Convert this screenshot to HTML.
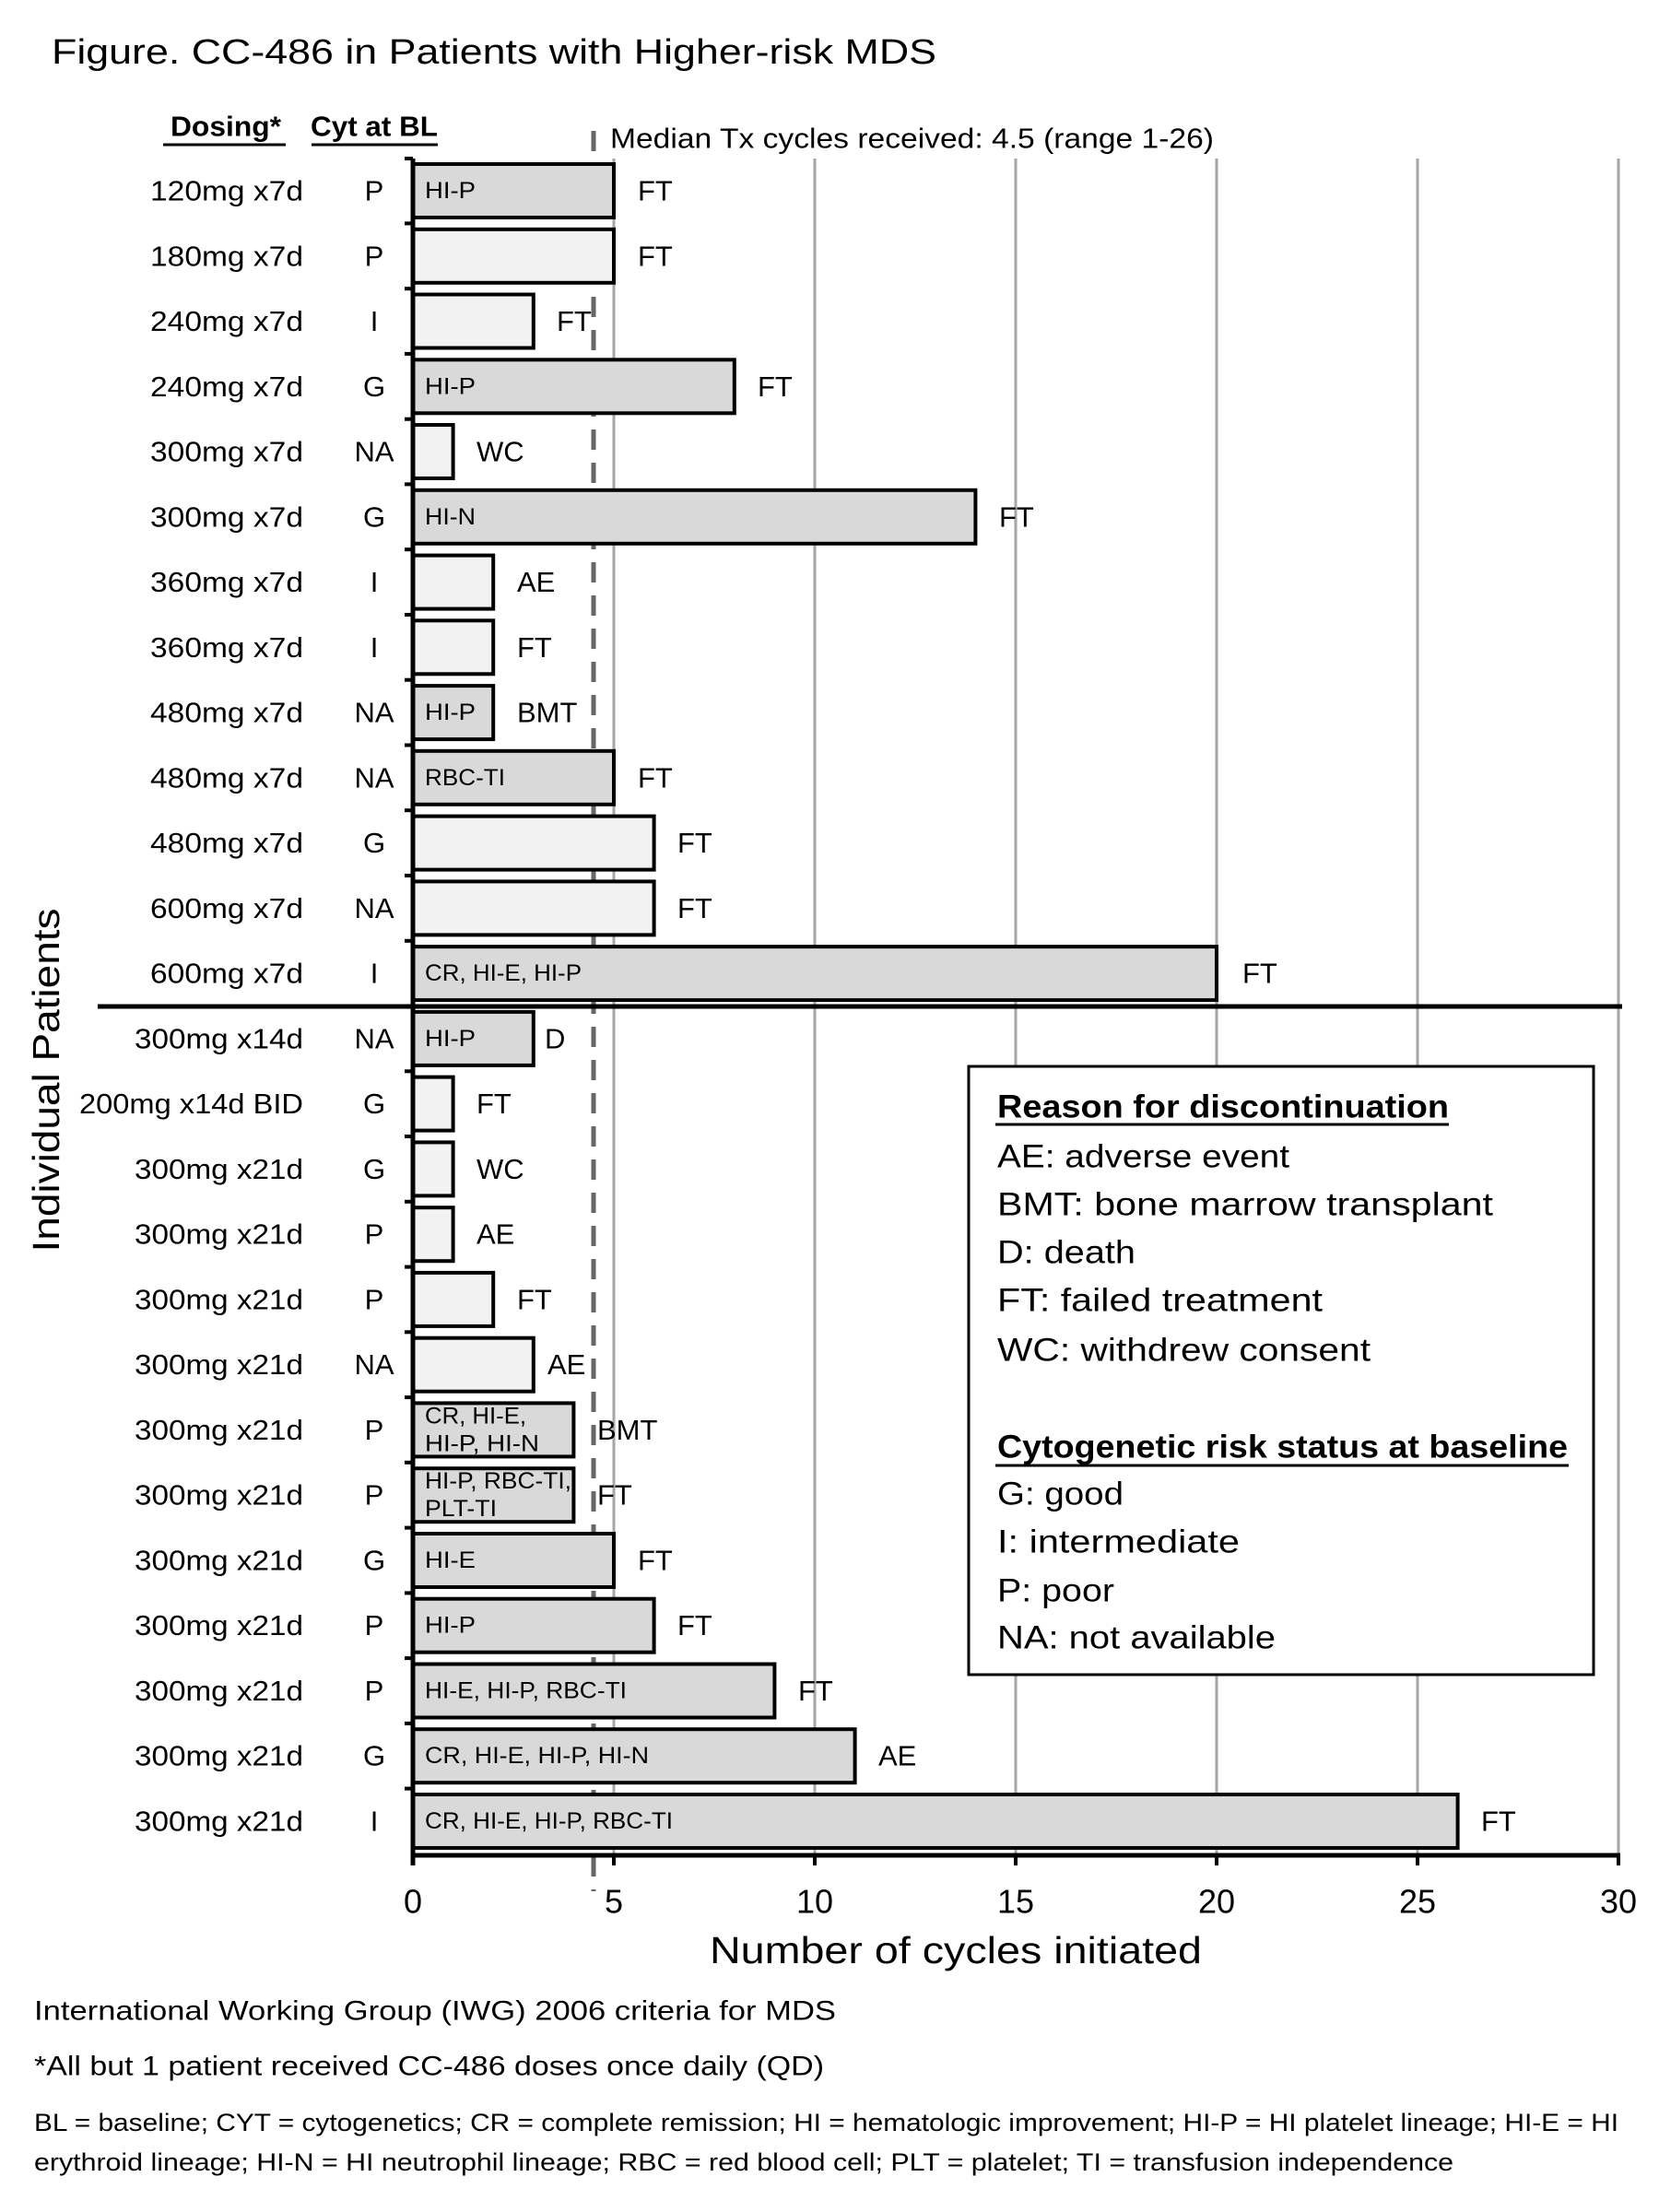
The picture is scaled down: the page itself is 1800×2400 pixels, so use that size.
<!DOCTYPE html>
<html><head><meta charset="utf-8"><style>
html,body{margin:0;padding:0;background:#fff}
svg{display:block}
text{font-family:"Liberation Sans",sans-serif;fill:#000}
</style></head><body>
<svg width="1800" height="2400" viewBox="0 0 1800 2400" xmlns="http://www.w3.org/2000/svg">
<rect width="1800" height="2400" fill="#fff"/>
<text x="56" y="57" font-size="38" dominant-baseline="central" textLength="960" lengthAdjust="spacingAndGlyphs">Figure. CC-486 in Patients with Higher-risk MDS</text>

<text x="245" y="137" font-size="31" font-weight="bold" text-anchor="middle" dominant-baseline="central" textLength="120" lengthAdjust="spacingAndGlyphs">Dosing*</text>
<line x1="177" y1="157" x2="310" y2="157" stroke="#000" stroke-width="3"/>
<text x="406" y="137" font-size="31" font-weight="bold" text-anchor="middle" dominant-baseline="central" textLength="138" lengthAdjust="spacingAndGlyphs">Cyt at BL</text>
<line x1="338" y1="157" x2="475" y2="157" stroke="#000" stroke-width="3"/>
<text x="662" y="150" font-size="31" dominant-baseline="central" textLength="655" lengthAdjust="spacingAndGlyphs">Median Tx cycles received: 4.5 (range 1-26)</text>

<g stroke="#a6a6a6" stroke-width="3">
<line x1="666" y1="172" x2="666" y2="2013"/>
<line x1="884" y1="172" x2="884" y2="2013"/>
<line x1="1102" y1="172" x2="1102" y2="2013"/>
<line x1="1320" y1="172" x2="1320" y2="2013"/>
<line x1="1538" y1="172" x2="1538" y2="2013"/>
<line x1="1756" y1="172" x2="1756" y2="2013"/>
</g>
<line x1="644" y1="142" x2="644" y2="2052" stroke="#666" stroke-width="5" stroke-dasharray="22,14"/>

<g stroke="#000" stroke-width="4">
<rect x="448" y="178" width="218" height="58" fill="#d9d9d9"/>
<rect x="448" y="248.8" width="218" height="58" fill="#f2f2f2"/>
<rect x="448" y="319.5" width="130.8" height="58" fill="#f2f2f2"/>
<rect x="448" y="390.3" width="348.8" height="58" fill="#d9d9d9"/>
<rect x="448" y="461" width="43.6" height="58" fill="#f2f2f2"/>
<rect x="448" y="531.8" width="610.4" height="58" fill="#d9d9d9"/>
<rect x="448" y="602.6" width="87.2" height="58" fill="#f2f2f2"/>
<rect x="448" y="673.3" width="87.2" height="58" fill="#f2f2f2"/>
<rect x="448" y="744.1" width="87.2" height="58" fill="#d9d9d9"/>
<rect x="448" y="814.8" width="218" height="58" fill="#d9d9d9"/>
<rect x="448" y="885.6" width="261.6" height="58" fill="#f2f2f2"/>
<rect x="448" y="956.4" width="261.6" height="58" fill="#f2f2f2"/>
<rect x="448" y="1027.1" width="872" height="58" fill="#d9d9d9"/>
<rect x="448" y="1097.9" width="130.8" height="58" fill="#d9d9d9"/>
<rect x="448" y="1168.6" width="43.6" height="58" fill="#f2f2f2"/>
<rect x="448" y="1239.4" width="43.6" height="58" fill="#f2f2f2"/>
<rect x="448" y="1310.2" width="43.6" height="58" fill="#f2f2f2"/>
<rect x="448" y="1380.9" width="87.2" height="58" fill="#f2f2f2"/>
<rect x="448" y="1451.7" width="130.8" height="58" fill="#f2f2f2"/>
<rect x="448" y="1522.4" width="174.4" height="58" fill="#d9d9d9"/>
<rect x="448" y="1593.2" width="174.4" height="58" fill="#d9d9d9"/>
<rect x="448" y="1664" width="218" height="58" fill="#d9d9d9"/>
<rect x="448" y="1734.7" width="261.6" height="58" fill="#d9d9d9"/>
<rect x="448" y="1805.5" width="392.4" height="58" fill="#d9d9d9"/>
<rect x="448" y="1876.2" width="479.6" height="58" fill="#d9d9d9"/>
<rect x="448" y="1947" width="1133.6" height="58" fill="#d9d9d9"/>
</g>

<line x1="448" y1="172" x2="448" y2="2024" stroke="#000" stroke-width="5"/>
<line x1="446" y1="2013" x2="1758" y2="2013" stroke="#000" stroke-width="5"/>
<line x1="106" y1="1092" x2="1760" y2="1092" stroke="#000" stroke-width="5"/>
<g stroke="#000" stroke-width="4">
<line x1="666" y1="2013" x2="666" y2="2024"/><line x1="884" y1="2013" x2="884" y2="2024"/><line x1="1102" y1="2013" x2="1102" y2="2024"/><line x1="1320" y1="2013" x2="1320" y2="2024"/><line x1="1538" y1="2013" x2="1538" y2="2024"/><line x1="1756" y1="2013" x2="1756" y2="2024"/>
</g>
<g stroke="#000" stroke-width="4">
<line x1="439" y1="172" x2="448" y2="172"/><line x1="439" y1="242.4" x2="448" y2="242.4"/><line x1="439" y1="313.2" x2="448" y2="313.2"/><line x1="439" y1="383.9" x2="448" y2="383.9"/><line x1="439" y1="454.7" x2="448" y2="454.7"/><line x1="439" y1="525.4" x2="448" y2="525.4"/><line x1="439" y1="596.2" x2="448" y2="596.2"/><line x1="439" y1="667" x2="448" y2="667"/><line x1="439" y1="737.7" x2="448" y2="737.7"/><line x1="439" y1="808.5" x2="448" y2="808.5"/><line x1="439" y1="879.2" x2="448" y2="879.2"/><line x1="439" y1="950" x2="448" y2="950"/><line x1="439" y1="1020.8" x2="448" y2="1020.8"/><line x1="439" y1="1162.3" x2="448" y2="1162.3"/><line x1="439" y1="1233" x2="448" y2="1233"/><line x1="439" y1="1303.8" x2="448" y2="1303.8"/><line x1="439" y1="1374.6" x2="448" y2="1374.6"/><line x1="439" y1="1445.3" x2="448" y2="1445.3"/><line x1="439" y1="1516.1" x2="448" y2="1516.1"/><line x1="439" y1="1586.8" x2="448" y2="1586.8"/><line x1="439" y1="1657.6" x2="448" y2="1657.6"/><line x1="439" y1="1728.4" x2="448" y2="1728.4"/><line x1="439" y1="1799.1" x2="448" y2="1799.1"/><line x1="439" y1="1869.9" x2="448" y2="1869.9"/><line x1="439" y1="1940.6" x2="448" y2="1940.6"/>
</g>

<g font-size="31" text-anchor="end" dominant-baseline="central">
<text x="329" y="207" textLength="166" lengthAdjust="spacingAndGlyphs">120mg x7d</text>
<text x="329" y="277.8" textLength="166" lengthAdjust="spacingAndGlyphs">180mg x7d</text>
<text x="329" y="348.5" textLength="166" lengthAdjust="spacingAndGlyphs">240mg x7d</text>
<text x="329" y="419.3" textLength="166" lengthAdjust="spacingAndGlyphs">240mg x7d</text>
<text x="329" y="490" textLength="166" lengthAdjust="spacingAndGlyphs">300mg x7d</text>
<text x="329" y="560.8" textLength="166" lengthAdjust="spacingAndGlyphs">300mg x7d</text>
<text x="329" y="631.6" textLength="166" lengthAdjust="spacingAndGlyphs">360mg x7d</text>
<text x="329" y="702.3" textLength="166" lengthAdjust="spacingAndGlyphs">360mg x7d</text>
<text x="329" y="773.1" textLength="166" lengthAdjust="spacingAndGlyphs">480mg x7d</text>
<text x="329" y="843.8" textLength="166" lengthAdjust="spacingAndGlyphs">480mg x7d</text>
<text x="329" y="914.6" textLength="166" lengthAdjust="spacingAndGlyphs">480mg x7d</text>
<text x="329" y="985.4" textLength="166" lengthAdjust="spacingAndGlyphs">600mg x7d</text>
<text x="329" y="1056.1" textLength="166" lengthAdjust="spacingAndGlyphs">600mg x7d</text>
<text x="329" y="1126.9" textLength="183" lengthAdjust="spacingAndGlyphs">300mg x14d</text>
<text x="329" y="1197.6" textLength="243" lengthAdjust="spacingAndGlyphs">200mg x14d BID</text>
<text x="329" y="1268.4" textLength="183" lengthAdjust="spacingAndGlyphs">300mg x21d</text>
<text x="329" y="1339.2" textLength="183" lengthAdjust="spacingAndGlyphs">300mg x21d</text>
<text x="329" y="1409.9" textLength="183" lengthAdjust="spacingAndGlyphs">300mg x21d</text>
<text x="329" y="1480.7" textLength="183" lengthAdjust="spacingAndGlyphs">300mg x21d</text>
<text x="329" y="1551.4" textLength="183" lengthAdjust="spacingAndGlyphs">300mg x21d</text>
<text x="329" y="1622.2" textLength="183" lengthAdjust="spacingAndGlyphs">300mg x21d</text>
<text x="329" y="1693" textLength="183" lengthAdjust="spacingAndGlyphs">300mg x21d</text>
<text x="329" y="1763.7" textLength="183" lengthAdjust="spacingAndGlyphs">300mg x21d</text>
<text x="329" y="1834.5" textLength="183" lengthAdjust="spacingAndGlyphs">300mg x21d</text>
<text x="329" y="1905.2" textLength="183" lengthAdjust="spacingAndGlyphs">300mg x21d</text>
<text x="329" y="1976" textLength="183" lengthAdjust="spacingAndGlyphs">300mg x21d</text>
</g>
<g font-size="31" text-anchor="middle" dominant-baseline="central">
<text x="406" y="207">P</text><text x="406" y="277.8">P</text><text x="406" y="348.5">I</text><text x="406" y="419.3">G</text><text x="406" y="490">NA</text><text x="406" y="560.8">G</text><text x="406" y="631.6">I</text><text x="406" y="702.3">I</text><text x="406" y="773.1">NA</text><text x="406" y="843.8">NA</text><text x="406" y="914.6">G</text><text x="406" y="985.4">NA</text><text x="406" y="1056.1">I</text><text x="406" y="1126.9">NA</text><text x="406" y="1197.6">G</text><text x="406" y="1268.4">G</text><text x="406" y="1339.2">P</text><text x="406" y="1409.9">P</text><text x="406" y="1480.7">NA</text><text x="406" y="1551.4">P</text><text x="406" y="1622.2">P</text><text x="406" y="1693">G</text><text x="406" y="1763.7">P</text><text x="406" y="1834.5">P</text><text x="406" y="1905.2">G</text><text x="406" y="1976">I</text>
</g>

<g font-size="25" dominant-baseline="central">
<text x="461" y="207" textLength="55" lengthAdjust="spacingAndGlyphs">HI-P</text>
<text x="461" y="419.3" textLength="55" lengthAdjust="spacingAndGlyphs">HI-P</text>
<text x="461" y="560.8" textLength="55" lengthAdjust="spacingAndGlyphs">HI-N</text>
<text x="461" y="773.1" textLength="55" lengthAdjust="spacingAndGlyphs">HI-P</text>
<text x="461" y="843.8" textLength="87" lengthAdjust="spacingAndGlyphs">RBC-TI</text>
<text x="461" y="1056.1" textLength="170" lengthAdjust="spacingAndGlyphs">CR, HI-E, HI-P</text>
<text x="461" y="1126.9" textLength="55" lengthAdjust="spacingAndGlyphs">HI-P</text>
<text x="461" y="1536.4" textLength="110" lengthAdjust="spacingAndGlyphs">CR, HI-E,</text>
<text x="461" y="1566.4" textLength="124" lengthAdjust="spacingAndGlyphs">HI-P, HI-N</text>
<text x="461" y="1607.2" textLength="159" lengthAdjust="spacingAndGlyphs">HI-P, RBC-TI,</text>
<text x="461" y="1637.2" textLength="78" lengthAdjust="spacingAndGlyphs">PLT-TI</text>
<text x="461" y="1693" textLength="55" lengthAdjust="spacingAndGlyphs">HI-E</text>
<text x="461" y="1763.7" textLength="55" lengthAdjust="spacingAndGlyphs">HI-P</text>
<text x="461" y="1834.5" textLength="219" lengthAdjust="spacingAndGlyphs">HI-E, HI-P, RBC-TI</text>
<text x="461" y="1905.2" textLength="243" lengthAdjust="spacingAndGlyphs">CR, HI-E, HI-P, HI-N</text>
<text x="461" y="1976" textLength="269" lengthAdjust="spacingAndGlyphs">CR, HI-E, HI-P, RBC-TI</text>
</g>

<g font-size="31" dominant-baseline="central">
<text x="692" y="207">FT</text>
<text x="692" y="277.8">FT</text>
<text x="604" y="348.5">FT</text>
<text x="822" y="419.3">FT</text>
<text x="517" y="490">WC</text>
<text x="1084" y="560.8">FT</text>
<text x="561" y="631.6">AE</text>
<text x="561" y="702.3">FT</text>
<text x="561" y="773.1">BMT</text>
<text x="692" y="843.8">FT</text>
<text x="735" y="914.6">FT</text>
<text x="735" y="985.4">FT</text>
<text x="1348" y="1056.1">FT</text>
<text x="591" y="1126.9">D</text>
<text x="517" y="1197.6">FT</text>
<text x="517" y="1268.4">WC</text>
<text x="517" y="1339.2">AE</text>
<text x="561" y="1409.9">FT</text>
<text x="594" y="1480.7">AE</text>
<text x="648" y="1551.4">BMT</text>
<text x="648" y="1622.2">FT</text>
<text x="692" y="1693">FT</text>
<text x="735" y="1763.7">FT</text>
<text x="866" y="1834.5">FT</text>
<text x="953" y="1905.2">AE</text>
<text x="1607" y="1976">FT</text>
</g>

<rect x="1051" y="1157" width="678" height="660" fill="#fff" stroke="#000" stroke-width="3"/>
<g font-size="35" dominant-baseline="central">
<text x="1082" y="1201" font-weight="bold" textLength="490" lengthAdjust="spacingAndGlyphs">Reason for discontinuation</text>
<line x1="1080" y1="1220" x2="1572" y2="1220" stroke="#000" stroke-width="3"/>
<text x="1082" y="1255" textLength="317" lengthAdjust="spacingAndGlyphs">AE: adverse event</text>
<text x="1082" y="1307" textLength="538" lengthAdjust="spacingAndGlyphs">BMT: bone marrow transplant</text>
<text x="1082" y="1359" textLength="150" lengthAdjust="spacingAndGlyphs">D: death</text>
<text x="1082" y="1411" textLength="353" lengthAdjust="spacingAndGlyphs">FT: failed treatment</text>
<text x="1082" y="1465" textLength="405" lengthAdjust="spacingAndGlyphs">WC: withdrew consent</text>
<text x="1082" y="1570" font-weight="bold" textLength="619" lengthAdjust="spacingAndGlyphs">Cytogenetic risk status at baseline</text>
<line x1="1080" y1="1590" x2="1702" y2="1590" stroke="#000" stroke-width="3"/>
<text x="1082" y="1621" textLength="137" lengthAdjust="spacingAndGlyphs">G: good</text>
<text x="1082" y="1673" textLength="263" lengthAdjust="spacingAndGlyphs">I: intermediate</text>
<text x="1082" y="1726" textLength="127" lengthAdjust="spacingAndGlyphs">P: poor</text>
<text x="1082" y="1777" textLength="302" lengthAdjust="spacingAndGlyphs">NA: not available</text>
</g>

<g font-size="36" text-anchor="middle" dominant-baseline="central">
<text x="448" y="2063">0</text><text x="666" y="2063">5</text><text x="884" y="2063">10</text><text x="1102" y="2063">15</text><text x="1320" y="2063">20</text><text x="1538" y="2063">25</text><text x="1756" y="2063">30</text>
</g>
<text x="1037" y="2116" font-size="41" text-anchor="middle" dominant-baseline="central" textLength="534" lengthAdjust="spacingAndGlyphs">Number of cycles initiated</text>
<text transform="translate(50,1172) rotate(-90)" font-size="41" text-anchor="middle" dominant-baseline="central" textLength="373" lengthAdjust="spacingAndGlyphs">Individual Patients</text>

<g font-size="30" dominant-baseline="central">
<text x="37" y="2182" textLength="870" lengthAdjust="spacingAndGlyphs">International Working Group (IWG) 2006 criteria for MDS</text>
<text x="37" y="2242" textLength="857" lengthAdjust="spacingAndGlyphs">*All but 1 patient received CC-486 doses once daily (QD)</text>
</g>
<g font-size="27" dominant-baseline="central">
<text x="37" y="2303" textLength="1719" lengthAdjust="spacingAndGlyphs">BL = baseline; CYT = cytogenetics; CR = complete remission; HI = hematologic improvement; HI-P = HI platelet lineage; HI-E = HI</text>
<text x="37" y="2346" textLength="1540" lengthAdjust="spacingAndGlyphs">erythroid lineage; HI-N = HI neutrophil lineage; RBC = red blood cell; PLT = platelet; TI = transfusion independence</text>
</g>
</svg>
</body></html>
